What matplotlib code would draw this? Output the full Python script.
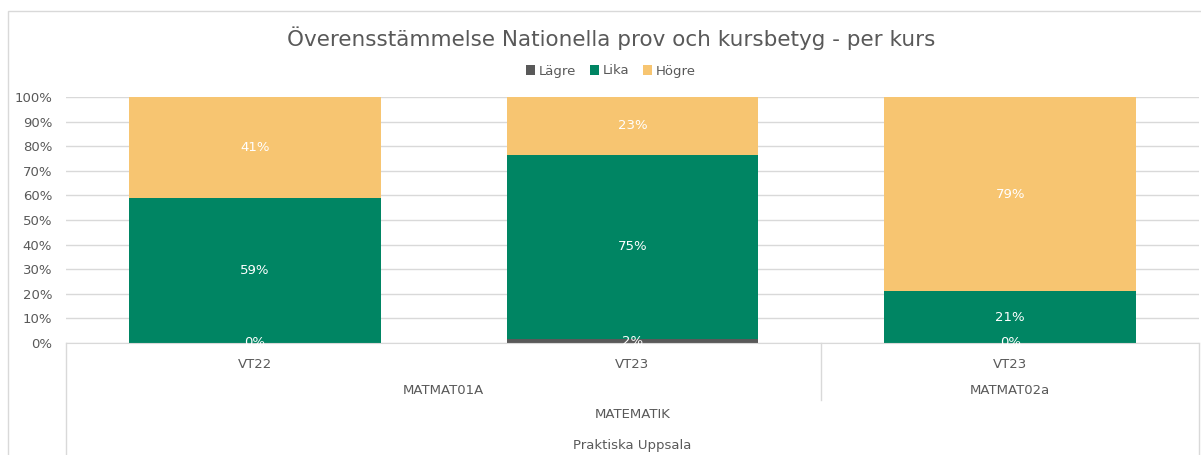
import matplotlib.pyplot as plt
from matplotlib.patches import Rectangle
from matplotlib.transforms import blended_transform_factory

# data
terms = ['VT22', 'VT23', 'VT23']
courses = ['MATMAT01A', 'MATMAT02a']
course_span = [(0, 1), (2, 2)]
subject = 'MATEMATIK'
school = 'Praktiska Uppsala'
lagre = [0, 1.6, 0]
lika = [59, 75, 21]
hogre = [41, 23.4, 79]

c_lagre = '#595959'
c_lika = '#008563'
c_hogre = '#F7C571'
txt = '#595959'
line = '#D9D9D9'

W, H = 1201, 455
fig = plt.figure(figsize=(W / 100, H / 100), dpi=100)
plt.rcParams['font.family'] = ['DejaVu Sans']

# outer chart border
fig.patches.append(Rectangle((8 / W, -0.1), 1.2, 1 - 11 / H + 0.1, transform=fig.transFigure,
                             fill=False, edgecolor=line, lw=1))

ax = fig.add_axes([66 / W, 1 - 343 / H, (1199 - 66) / W, 246 / H])
x = list(range(len(terms)))
w = 2 / 3
bottoms2 = [a + b for a, b in zip(lagre, lika)]
b1 = ax.bar(x, lagre, w, color=c_lagre, label='Lägre', zorder=2)
b2 = ax.bar(x, lika, w, bottom=lagre, color=c_lika, label='Lika', zorder=2)
b3 = ax.bar(x, hogre, w, bottom=bottoms2, color=c_hogre, label='Högre', zorder=2)
for bars in (b1, b2, b3):
    ax.bar_label(bars, labels=['%.0f%%' % b.get_height() for b in bars], label_type='center',
                 color='white', fontsize=9.5, zorder=3)

ax.set_xlim(-0.5, 2.5)
ax.set_ylim(0, 100)
ax.set_yticks(range(0, 101, 10))
ax.set_yticklabels(['%d%%' % v for v in range(0, 101, 10)])
ax.tick_params(axis='y', length=0, pad=10, labelsize=9.5, labelcolor=txt)
ax.set_xticks([])
ax.grid(axis='y', color=line, lw=1, zorder=0)
for s in ['top', 'right', 'left']:
    ax.spines[s].set_visible(False)
ax.spines['bottom'].set_color(line)

# multi-level category axis
tr = blended_transform_factory(ax.transData, ax.transAxes)
px = 1 / 246
for i, t in enumerate(terms):
    ax.text(i, -21 * px, t, transform=tr, ha='center', va='center', fontsize=9.5, color=txt)
for (a, b), c in zip(course_span, courses):
    ax.text((a + b) / 2, -47 * px, c, transform=tr, ha='center', va='center', fontsize=9.5, color=txt)
ax.text(1, -71 * px, subject, transform=tr, ha='center', va='center', fontsize=9.5, color=txt)
ax.text(1, -103 * px, school, transform=tr, ha='center', va='center', fontsize=9.5, color=txt)
ax.plot([-0.5, -0.5], [0, -0.5], transform=tr, color=line, lw=1, clip_on=False)
ax.plot([2.5, 2.5], [0, -0.5], transform=tr, color=line, lw=1, clip_on=False)
ax.plot([1.5, 1.5], [0, -57 * px], transform=tr, color=line, lw=1, clip_on=False)

fig.text(611 / W, 1 - 38 / H, 'Överensstämmelse Nationella prov och kursbetyg - per kurs',
         ha='center', va='center', fontsize=15.5, color=txt)
fig.legend(handles=[b1, b2, b3], loc='center', bbox_to_anchor=(611 / W, 1 - 71 / H), ncol=3,
           frameon=False, fontsize=9.5, labelcolor=txt, handlelength=0.7, handleheight=0.7,
           handletextpad=0.3, columnspacing=1.0)

fig.savefig('out.png', dpi=100)
